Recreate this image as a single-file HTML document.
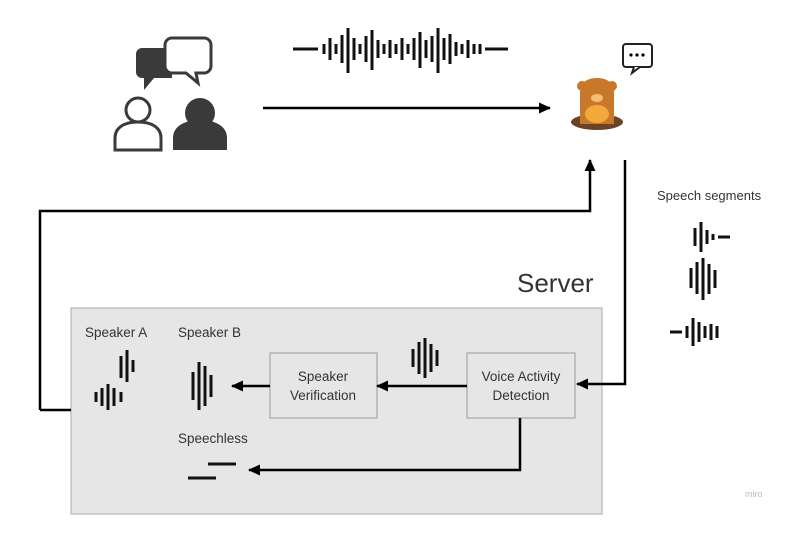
<!DOCTYPE html>
<html><head><meta charset="utf-8"><style>
body{margin:0;background:#fff;width:811px;height:541px;overflow:hidden}
text{font-family:"Liberation Sans","DejaVu Sans",sans-serif;fill:#333}
</style></head><body>
<svg width="811" height="541" viewBox="0 0 811 541" xmlns="http://www.w3.org/2000/svg">
<defs><marker id="a" markerWidth="12" markerHeight="12" refX="11" refY="6" orient="auto" markerUnits="userSpaceOnUse"><path d="M0,0.5 L12,6 L0,11.5 z" fill="#000"/></marker></defs>
<rect x="71" y="308" width="531" height="206" fill="#e6e6e6" stroke="#aaa"/>
<text x="517" y="292" font-size="26">Server</text>
<text x="657" y="200" font-size="13">Speech segments</text>
<text x="85" y="337" font-size="13.5">Speaker A</text>
<text x="178" y="337" font-size="13.5">Speaker B</text>
<text x="178" y="443" font-size="13.5">Speechless</text>
<text x="745" y="497" font-size="9" style="fill:#bbb">miro</text>
<rect x="270" y="353" width="107" height="65" fill="#e6e6e6" stroke="#999"/>
<text x="323" y="381" font-size="13.5" text-anchor="middle">Speaker</text>
<text x="323" y="400" font-size="13.5" text-anchor="middle">Verification</text>
<rect x="467" y="353" width="108" height="65" fill="#e6e6e6" stroke="#999"/>
<text x="521" y="381" font-size="13.5" text-anchor="middle">Voice Activity</text>
<text x="521" y="400" font-size="13.5" text-anchor="middle">Detection</text>
<g stroke="#000" stroke-width="2.5" fill="none">
<line x1="263" y1="108" x2="550" y2="108" marker-end="url(#a)"/>
<polyline points="40,410 40,211 590,211 590,160" marker-end="url(#a)"/>
<line x1="40" y1="410" x2="71" y2="410"/>
<polyline points="625,160 625,384 577,384" marker-end="url(#a)"/>
<line x1="467" y1="386" x2="377" y2="386" marker-end="url(#a)"/>
<line x1="270" y1="386" x2="232" y2="386" marker-end="url(#a)"/>
<polyline points="520,418 520,470 249,470" marker-end="url(#a)"/>
</g>
<g stroke="#111" stroke-width="3" stroke-linecap="butt">
<line x1="293" y1="49" x2="318" y2="49"/><line x1="485" y1="49" x2="508" y2="49"/>
<path d="M324 44v10M330 38v22M336 44v10M342 35v28M348 28v45M354 38v22M360 44v10M366 36v26M372 30v40M378 40v18M384 44v10M390 40v18M396 44v10M402 38v22M408 44v10M414 38v22M420 32v36M426 40v18M432 36v26M438 28v45M444 38v22M450 34v30M456 42v14M462 44v10M468 40v18M474 44v10M480 44v10"/>
<path d="M193 372v28M199 362v48M205 366v40M211 375v22"/>
<path d="M121 356v22M127 350v32M133 360v12M96 392v10M102 388v18M108 384v26M114 388v18M121 392v10"/>
<path d="M413 349v18M419 342v32M425 338v40M431 344v28M437 350v16"/>
<path d="M695 228v18M701 222v30M707 230v14M713 234v6M718 237h12"/>
<path d="M691 268v20M697 262v32M703 258v42M709 264v30M715 270v18"/>
<path d="M670 332h12M687 326v12M693 318v28M699 322v20M705 326v12M711 324v16M717 326v12"/>
<line x1="208" y1="464" x2="236" y2="464"/><line x1="188" y1="478" x2="216" y2="478"/>
</g>
<g fill="#3a3a3a">
<path d="M142 48h30v30h-18l-10 12v-12h-2a6 6 0 0 1-6-6v-18a6 6 0 0 1 6-6z"/>
<circle cx="200" cy="113" r="15"/>
<path d="M173 150v-12c0-12 12-18 27-18s27 6 27 18v12z"/>
</g>
<path d="M172 38h32a7 7 0 0 1 7 7v21a7 7 0 0 1-7 7h-8l2 10-12-10h-14a7 7 0 0 1-7-7v-21a7 7 0 0 1 7-7z" fill="#fff" stroke="#3a3a3a" stroke-width="3"/>
<circle cx="138" cy="110" r="12" fill="none" stroke="#3a3a3a" stroke-width="3"/>
<path d="M115 150v-12c0-11 10-16 23-16s23 5 23 16v12z" fill="none" stroke="#3a3a3a" stroke-width="3"/>
<rect x="623" y="44" width="29" height="23" rx="3" fill="#fff" stroke="#222" stroke-width="2"/>
<path d="M634 67l-2 6 8-6" fill="#fff" stroke="#222" stroke-width="2"/>
<circle cx="631" cy="55" r="1.6"/><circle cx="637" cy="55" r="1.6"/><circle cx="643" cy="55" r="1.6"/>
<ellipse cx="597" cy="122" rx="26" ry="8" fill="#6b4428"/>
<path d="M580 124v-32c0-10 8-14 17-14s17 4 17 14v32z" fill="#c8782a"/>
<circle cx="582" cy="86" r="5" fill="#c8782a"/><circle cx="612" cy="86" r="5" fill="#c8782a"/>
<ellipse cx="597" cy="114" rx="12" ry="9" fill="#f2a83a"/>
<ellipse cx="597" cy="98" rx="6" ry="4" fill="#f2c070"/>
</svg>
</body></html>
